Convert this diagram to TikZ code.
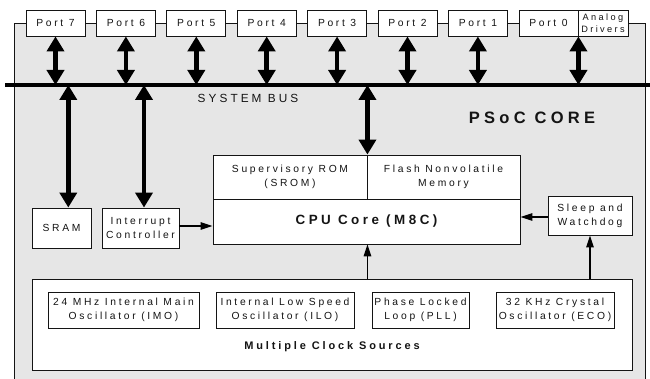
\documentclass[tikz,border=0pt]{standalone}
\usepackage{fontspec}
\setmainfont{Liberation Sans}
\newfontfamily\spaced[LetterSpace=26]{Liberation Sans}
\usetikzlibrary{arrows.meta}
\definecolor{bg}{HTML}{E6E6E6}
\definecolor{ink}{HTML}{141414}
\tikzset{
  box/.style={draw=ink, line width=0.9pt, fill=white, rectangle, inner sep=0pt, align=center, text=ink,
    font=\spaced\fontsize{10.3}{14}\selectfont},
  portbox/.style={box, minimum width=59pt, minimum height=26pt},
  osc/.style={box, minimum height=36pt},
  bigarrow/.style={line width=4.6pt, draw=black, {Triangle[length=15pt,width=17pt]}-{Triangle[length=15pt,width=17pt]}},
  smallarrow/.style={line width=1.4pt, draw=black, -{Triangle[length=12pt,width=7.5pt]}},
  lbl/.style={inner sep=0pt, text=ink}
}
\begin{document}
\begin{tikzpicture}[x=1pt,y=-1pt]
\useasboundingbox (0,0) rectangle (650,379);
% grey core area
\fill[bg] (14,23) rectangle (645,390);
\draw[ink, line width=0.9pt] (14,390) -- (14,23) -- (645,23) -- (645,390);
% ports
\node[portbox] (p7) at (55.5,23) {Port 7};
\node[portbox] (p6) at (125.9,23) {Port 6};
\node[portbox] (p5) at (196.3,23) {Port 5};
\node[portbox] (p4) at (266.7,23) {Port 4};
\node[portbox] (p3) at (337.1,23) {Port 3};
\node[portbox] (p2) at (407.5,23) {Port 2};
\node[portbox] (p1) at (477.9,23) {Port 1};
\node[portbox] (p0) at (548.5,23) {Port 0};
\node[box, minimum width=50pt, minimum height=26pt, font=\spaced\fontsize{9.2}{11.5}\selectfont] (ad) at (603,23) {Analog\\Drivers};
% system bus
\coordinate (bus) at (5,85);
\coordinate (busR) at (652,85);
\draw[line width=3.6pt] (bus) -- (busR);
\node[lbl, font=\spaced\fontsize{11.8}{13}\selectfont] (sb) at (248,98) {SYSTEM BUS};
\node[lbl, font=\spaced\bfseries\fontsize{16.5}{18}\selectfont] (core) at (532,118) {PSoC CORE};
% port arrows
\foreach \p in {p7,p6,p5,p4,p3,p2,p1}{
  \draw[bigarrow] (\p.south) -- (\p.south |- bus);
}
\draw[bigarrow] (p0.south east) -- (p0.south east |- bus);
% memory / cpu block
\node[box, minimum width=154pt, minimum height=44pt] (srom) at (290,177) {Supervisory ROM\\(SROM)};
\node[box, minimum width=153pt, minimum height=44pt] (flash) at (443.5,177) {Flash Nonvolatile\\Memory};
\node[box, minimum width=307pt, minimum height=45pt, font=\spaced\bfseries\fontsize{13.4}{15}\selectfont] (cpu) at (366.5,221.5) {CPU Core (M8C)};
% sram, interrupt
\node[box, minimum width=59pt, minimum height=40pt] (sram) at (61.5,228) {SRAM};
\node[box, minimum width=77pt, minimum height=40pt] (intr) at (140.5,228) {Interrupt\\Controller};
\node[box, minimum width=84pt, minimum height=39pt] (sleep) at (590,215.5) {Sleep and\\Watchdog};
% bus to blocks
\draw[bigarrow] ([xshift=6.8pt]sram.north |- bus) -- ([xshift=6.8pt]sram.north);
\draw[bigarrow] ([xshift=3.5pt]intr.north |- bus) -- ([xshift=3.5pt]intr.north);
\draw[bigarrow] (srom.north east |- bus) -- (srom.north east);
% clock sources
\node[box, minimum width=600pt, minimum height=91pt] (clk) at (332,324.5) {};
\node[lbl, font=\spaced\bfseries\fontsize{11}{13}\selectfont] (mcs) at (332,347) {Multiple Clock Sources};
\node[osc, minimum width=151pt] (imo) at (123.5,310) {24 MHz Internal Main\\Oscillator (IMO)};
\node[osc, minimum width=138pt] (ilo) at (285,310) {Internal Low Speed\\Oscillator (ILO)};
\node[osc, minimum width=97pt] (pll) at (420.5,310) {Phase Locked\\Loop (PLL)};
\node[osc, minimum width=118pt] (eco) at (555,310) {32 KHz Crystal\\Oscillator (ECO)};
% small arrows
\draw[smallarrow] (intr.east |- 0,226) -- (cpu.west |- 0,226);
\draw[smallarrow] (sleep.west |- 0,217) -- (cpu.east |- 0,217);
\draw[smallarrow] (clk.north -| srom.north east) -- (cpu.south -| srom.north east);
\draw[smallarrow] (clk.north -| sleep.south) -- (sleep.south);
\end{tikzpicture}
\end{document}
